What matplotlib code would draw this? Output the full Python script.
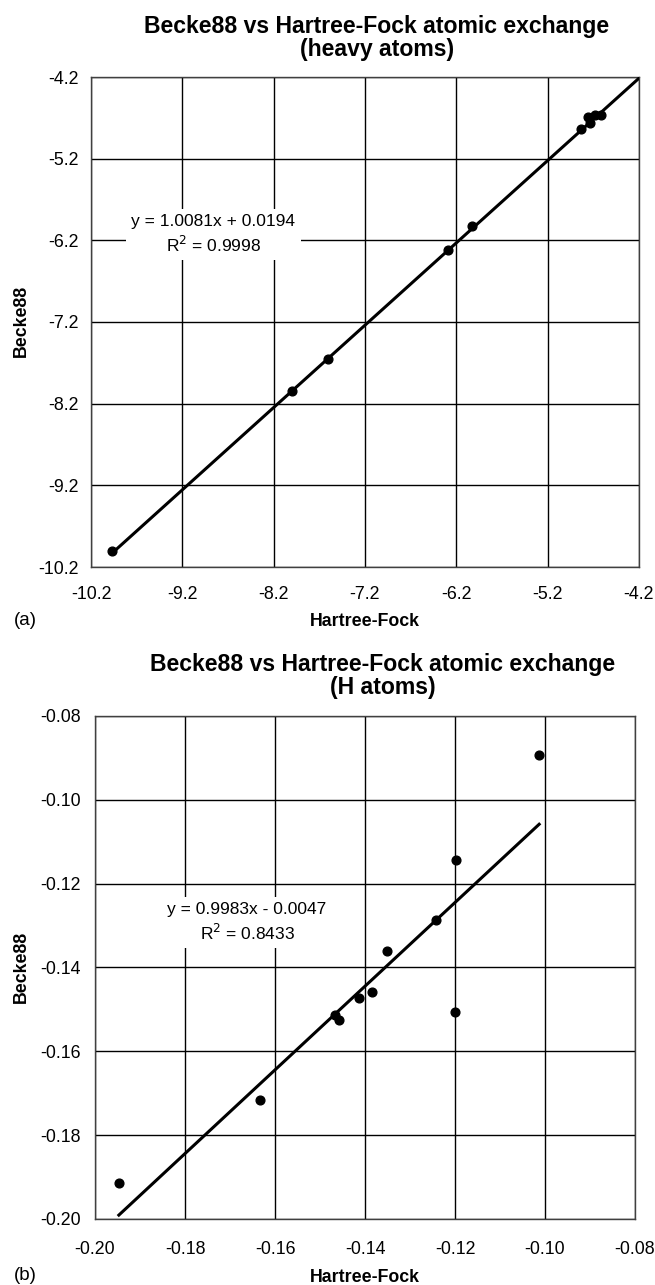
import numpy as np
import matplotlib
matplotlib.use("Agg")
import matplotlib.pyplot as plt

plt.rcParams["font.family"] = ["Liberation Sans", "DejaVu Sans"]

# (a) heavy atoms
heavy_hf = [-9.973, -7.995, -7.607, -6.287, -6.030, -4.833, -4.753, -4.735, -4.680, -4.614]
heavy_b88 = [-10.01, -8.046, -7.658, -6.324, -6.026, -4.834, -4.692, -4.765, -4.671, -4.671]
heavy_ticks = [-10.2, -9.2, -8.2, -7.2, -6.2, -5.2, -4.2]
heavy_fit = (1.0081, 0.0194)
heavy_eq = "y = 1.0081x + 0.0194\nR$^2$ = 0.9998"

# (b) H atoms
h_hf = [-0.1013, -0.1198, -0.1243, -0.1352, -0.1384, -0.1413, -0.1467, -0.1457, -0.1200, -0.1634, -0.1947]
h_b88 = [-0.0892, -0.1144, -0.1287, -0.1360, -0.1459, -0.1473, -0.1514, -0.1526, -0.1505, -0.1715, -0.1914]
h_ticks = [-0.20, -0.18, -0.16, -0.14, -0.12, -0.10, -0.08]
h_fit = (0.9983, -0.0047)
h_eq = "y = 0.9983x - 0.0047\nR$^2$ = 0.8433"

W, H = 655, 1285
fig = plt.figure(figsize=(W / 100, H / 100), dpi=100)


def px_axes(left, top, right, bottom):
    return fig.add_axes([left / W, 1 - bottom / H, (right - left) / W, (bottom - top) / H])


def style(ax, ticks, fmt, ypad, xpad):
    ax.set_xlim(ticks[0], ticks[-1])
    ax.set_ylim(ticks[0], ticks[-1])
    ax.set_xticks(ticks)
    ax.set_yticks(ticks)
    ax.set_xticklabels([fmt.format(t) for t in ticks])
    ax.set_yticklabels([fmt.format(t) for t in ticks])
    ax.tick_params(axis="both", length=0, labelsize=12.8)
    ax.tick_params(axis="y", pad=ypad)
    ax.tick_params(axis="x", pad=xpad)
    ax.grid(True, color="black", linewidth=1.0)
    ax.set_axisbelow(True)
    for s in ax.spines.values():
        s.set_color("#404040")
        s.set_linewidth(1.0)


def panel(ax, xs, ys, fit, x0, x1, eq, eqx, eqy):
    lx = np.array([x0, x1])
    ax.plot(lx, fit[0] * lx + fit[1], color="black", linewidth=2.2, zorder=3)
    ax.plot(xs, ys, "o", color="black", markersize=6.3, zorder=4)
    ax.text(eqx, eqy, eq, ha="center", va="center", fontsize=12.5, linespacing=1.33,
            bbox=dict(facecolor="white", edgecolor="none", boxstyle="square,pad=0.3"), zorder=2.5)


ax1 = px_axes(91, 77, 639, 567)
style(ax1, heavy_ticks, "{:.1f}", 9, 13.5)
panel(ax1, heavy_hf, heavy_b88, heavy_fit, min(heavy_hf), heavy_ticks[-1], heavy_eq, -8.86, -6.13)

ax2 = px_axes(95, 716, 635, 1219)
style(ax2, h_ticks, "{:.2f}", 10.5, 16)
panel(ax2, h_hf, h_b88, h_fit, min(h_hf), max(h_hf), h_eq, -0.1662, -0.1293)

title_kw = dict(ha="center", va="center", fontsize=16.6, fontweight="bold", linespacing=1.0)
fig.text(377 / W, 1 - 38 / H, "Becke88 vs Hartree-Fock atomic exchange\n(heavy atoms)", **title_kw)
fig.text(383 / W, 1 - 676 / H, "Becke88 vs Hartree-Fock atomic exchange\n(H atoms)", **title_kw)

lab_kw = dict(fontsize=12.8, fontweight="bold")
fig.text(365 / W, 1 - 621 / H, "Hartree-Fock", ha="center", va="center", **lab_kw)
fig.text(365 / W, 1 - 1277 / H, "Hartree-Fock", ha="center", va="center", **lab_kw)
fig.text(21 / W, 1 - 321 / H, "Becke88", rotation=90, ha="center", va="center", **lab_kw)
fig.text(21 / W, 1 - 967 / H, "Becke88", rotation=90, ha="center", va="center", **lab_kw)

fig.text(14 / W, 1 - 620 / H, "(a)", ha="left", va="center", fontsize=13.5)
fig.text(14 / W, 1 - 1275 / H, "(b)", ha="left", va="center", fontsize=13.5)

fig.savefig("out.png", dpi=100)
